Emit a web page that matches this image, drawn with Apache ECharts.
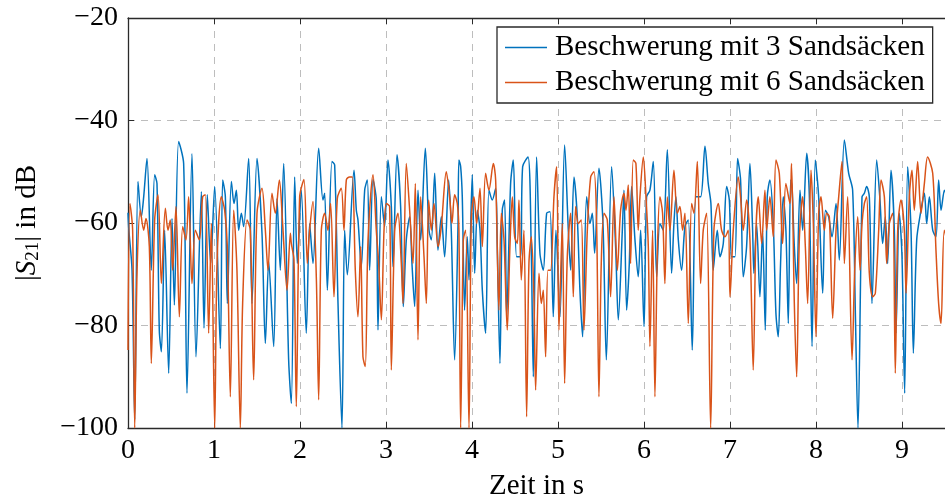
<!DOCTYPE html>
<html><head><meta charset="utf-8">
<script src="https://cdn.jsdelivr.net/npm/echarts@6/dist/echarts.min.js"></script>
<style>html,body{margin:0;padding:0;background:#fff}#c{width:945px;height:494px}</style>
</head><body><div id="c"></div>
<script>
const xTicks = [0,1,2,3,4,5,6,7,8,9];
const xMax = 9.5;
const yTicks = [-100,-80,-60,-40,-20];
const seriesNames = ['Beschwerung mit 3 Sandsäcken','Beschwerung mit 6 Sandsäcken'];

const sand3 = [
[0,-58],[0.01,-61.4],[0.047,-69.2],[0.078,-98.4],[0.116,-51.9],[0.155,-58.8],[0.182,-55],[0.221,-47.4],[0.271,-69.2],[0.31,-50.6],[0.337,-52.3],[0.364,-80.9],[0.388,-85.1],[0.426,-61.4],[0.473,-89.3],[0.512,-59.1],[0.539,-76],[0.589,-44.1],[0.647,-48.4],[0.686,-93.2],[0.744,-46.5],[0.791,-86.1],[0.853,-53.9],[0.884,-80.5],[0.922,-54.5],[0.961,-67.9],[1.008,-52.9],[1.074,-84.5],[1.101,-51.6],[1.132,-54.9],[1.155,-75.7],[1.202,-51.9],[1.233,-56.2],[1.26,-53.6],[1.287,-61.4],[1.318,-58.1],[1.345,-60.7],[1.403,-47.4],[1.442,-75.7],[1.5,-47.4],[1.558,-62],[1.597,-83.5],[1.636,-67.5],[1.694,-84.1],[1.733,-55.2],[1.771,-69.2],[1.81,-48.4],[1.868,-86.7],[1.899,-95.2],
[1.938,-51],[1.969,-67.9],[2.015,-53.6],[2.073,-81.5],[2.112,-60.1],[2.151,-67.9],[2.217,-45.4],[2.267,-55.5],[2.287,-54.2],[2.318,-73.1],[2.372,-48],[2.403,-48.7],[2.442,-75.7],[2.488,-100],[2.519,-61.4],[2.55,-70.1],[2.628,-49.7],[2.655,-57.5],[2.674,-59.4],[2.713,-68.5],[2.752,-53.6],[2.783,-51.6],[2.81,-69.2],[2.849,-51.5],[2.887,-55.5],[2.907,-80.9],[2.946,-54.9],[2.984,-60.7],[3.023,-47.7],[3.062,-56.8],[3.081,-68.5],[3.128,-46.7],[3.17,-56.8],[3.201,-76.3],[3.236,-63.3],[3.275,-58.8],[3.302,-67.9],[3.333,-76.3],[3.372,-53.6],[3.403,-63.3],[3.457,-45.4],[3.5,-61.4],[3.527,-63.3],[3.566,-50.3],[3.604,-65.3],[3.643,-58.8],[3.682,-66.6],[3.728,-51.6],[3.759,-61.4],[3.798,-86.7],[3.837,-60.7],
[3.848,-47.7],[3.868,-49],[3.887,-54.9],[3.914,-77],[3.945,-62.7],[3.965,-71.1],[4.003,-50.6],[4.031,-69.8],[4.062,-57.5],[4.093,-61.4],[4.12,-73.1],[4.158,-81.5],[4.197,-53.6],[4.236,-55.5],[4.275,-53.2],[4.294,-64.6],[4.325,-87.4],[4.352,-57.5],[4.379,-55.5],[4.403,-78.3],[4.449,-52.3],[4.48,-47.7],[4.519,-66.6],[4.565,-66.6],[4.589,-49],[4.651,-47.1],[4.689,-65.3],[4.713,-90],[4.751,-47.1],[4.79,-65.9],[4.829,-69.2],[4.868,-58.1],[4.907,-57.8],[4.945,-78.3],[4.976,-61.4],[5.023,-78.3],[5.077,-44.8],[5.12,-61.4],[5.147,-69.2],[5.186,-51],[5.224,-58.8],[5.255,-73.1],[5.286,-82.2],[5.333,-54.9],[5.372,-60.1],[5.399,-58.1],[5.426,-65.9],[5.476,-49.3],[5.523,-60.1],[5.562,-86.7],[5.624,-49],[5.67,-64.6],[5.701,-78.9],[5.748,-61.4],
[5.767,-53.6],[5.798,-77],[5.829,-67.9],[5.856,-52.9],[5.895,-63.3],[5.933,-70.5],[5.961,-61.4],[6.0,-80.2],[6.03,-54.9],[6.069,-53.6],[6.108,-48],[6.147,-70.5],[6.185,-60.1],[6.224,-61.4],[6.271,-45.7],[6.321,-69.8],[6.348,-60.1],[6.371,-54.9],[6.399,-63.3],[6.437,-69.2],[6.476,-60.7],[6.515,-59.4],[6.561,-84.8],[6.604,-54.9],[6.658,-54.9],[6.709,-45],[6.747,-52.3],[6.778,-56.2],[6.805,-69.2],[6.852,-61.4],[6.883,-66.6],[6.922,-64],[6.961,-52.9],[6.992,-55.5],[7.019,-66.6],[7.058,-66.6],[7.088,-47.4],[7.123,-51.6],[7.154,-70.5],[7.193,-64.6],[7.232,-48.4],[7.263,-61.4],[7.278,-69.8],[7.309,-60.1],[7.348,-74.4],[7.379,-61.4],[7.41,-80.9],[7.433,-54.9],[7.464,-51.6],[7.503,-60.1],[7.534,-77.6],[7.561,-82.2],[7.588,-67.9],[7.619,-54.9],[7.65,-61.4],[7.678,-79.6],[7.705,-51.6],
[7.721,-52.9],[7.748,-64.6],[7.775,-71.8],[7.814,-53.6],[7.845,-61.4],[7.892,-46.4],[7.923,-54.9],[7.954,-84.1],[7.992,-47.7],[8.031,-54.9],[8.078,-73.7],[8.109,-57.5],[8.147,-58.8],[8.186,-62.7],[8.233,-56.2],[8.271,-67.2],[8.33,-43.8],[8.38,-50.3],[8.426,-53.6],[8.457,-77],[8.488,-100],[8.535,-54.9],[8.562,-54.2],[8.589,-52.9],[8.62,-54.9],[8.651,-75.7],[8.706,-47.7],[8.744,-55.5],[8.775,-64],[8.806,-58.8],[8.833,-67.9],[8.872,-49.7],[8.911,-61.4],[8.93,-81.5],[8.969,-58.1],[9.0,-66.6],[9.031,-93.2],[9.066,-49],[9.105,-61.4],[9.132,-85.4],[9.171,-63.3],[9.221,-57.5],[9.26,-54.2],[9.287,-60.1],[9.318,-54.9],[9.357,-61.4],[9.395,-62.7],[9.426,-51.6],[9.454,-57.5],[9.492,-53.6],[9.55,-60]
];

const sand6 = [
[0,-84.8],[0.023,-56.2],[0.054,-61.4],[0.078,-100],[0.105,-69.8],[0.143,-57.5],[0.182,-61.4],[0.209,-59.1],[0.248,-64.6],[0.271,-87.4],[0.31,-59.4],[0.349,-54.5],[0.388,-71.8],[0.434,-57.1],[0.465,-61.4],[0.492,-59.4],[0.519,-69.2],[0.558,-56.8],[0.597,-78.3],[0.636,-60.7],[0.674,-63.3],[0.705,-54.9],[0.744,-71.8],[0.783,-61.4],[0.829,-63.3],[0.868,-54.9],[0.899,-54.5],[0.938,-81.5],[0.969,-60.1],[1.008,-100],[1.035,-67.9],[1.085,-54.9],[1.124,-57.5],[1.155,-64.6],[1.19,-93.9],[1.229,-57.5],[1.267,-69.2],[1.306,-100],[1.333,-75.7],[1.384,-59.4],[1.422,-61.4],[1.461,-90.6],[1.5,-58.1],[1.558,-53.2],[1.597,-61.4],[1.628,-69.2],[1.674,-54.2],[1.713,-58.1],[1.76,-51.6],[1.798,-60.1],[1.849,-73.1],[1.888,-62],
[1.899,-64],[1.93,-67.2],[1.957,-95.8],[1.996,-54.9],[2.046,-51.5],[2.085,-67.9],[2.112,-61.4],[2.151,-55.8],[2.19,-70.8],[2.217,-94.5],[2.248,-61.4],[2.287,-58.1],[2.325,-61.4],[2.356,-56.2],[2.395,-74.4],[2.434,-55.2],[2.48,-53.2],[2.511,-61.4],[2.539,-51.6],[2.577,-51],[2.608,-51],[2.643,-69.2],[2.674,-78.3],[2.705,-64.6],[2.732,-86.1],[2.759,-88],[2.791,-63.3],[2.849,-50.6],[2.887,-61.4],[2.915,-67.9],[2.946,-78.9],[2.977,-61.4],[3.004,-56.2],[3.042,-56.8],[3.062,-88.7],[3.101,-61.4],[3.139,-58.1],[3.178,-67.9],[3.198,-75.7],[3.236,-48.4],[3.275,-57.5],[3.314,-67.9],[3.341,-52.3],[3.372,-82.8],[3.403,-54.9],[3.442,-66.6],[3.469,-75.7],[3.496,-55.5],[3.527,-61.4],[3.558,-56.2],[3.605,-64.6],[3.643,-60.7],[3.701,-50],[3.74,-54.9],[3.767,-60.1],[3.798,-54.5],[3.829,-56.2],
[3.848,-61.4],[3.868,-100],[3.899,-63.3],[3.926,-61.4],[3.965,-100],[3.992,-58.8],[4.023,-54.9],[4.054,-60.1],[4.093,-53.2],[4.12,-64.6],[4.158,-50.3],[4.197,-53.6],[4.248,-48.4],[4.275,-51.6],[4.313,-77],[4.341,-58.1],[4.372,-63.3],[4.41,-80.9],[4.441,-64.6],[4.469,-54.9],[4.496,-62.7],[4.527,-64],[4.546,-55.5],[4.573,-71.1],[4.604,-61.4],[4.635,-97.8],[4.662,-67.9],[4.69,-62.7],[4.72,-74.4],[4.74,-92.6],[4.779,-69.8],[4.806,-75.7],[4.829,-73.1],[4.856,-86.1],[4.883,-69.2],[4.914,-69.2],[4.953,-54.9],[4.984,-49],[5.011,-80.9],[5.05,-60.1],[5.077,-91.3],[5.108,-66.6],[5.147,-58.1],[5.178,-74.4],[5.205,-56.8],[5.236,-60.1],[5.271,-59.4],[5.302,-80.9],[5.341,-61.4],[5.38,-51],[5.418,-50],[5.449,-60.1],[5.476,-93.9],[5.503,-67.9],[5.535,-58.1],[5.573,-59.4],[5.612,-74.4],[5.651,-54.9],[5.69,-69.2],[5.728,-57.5],[5.767,-54.2],
[5.79,-57.5],[5.817,-52.6],[5.844,-67.9],[5.875,-47.7],[5.906,-48.4],[5.933,-61.4],[5.953,-54.9],[5.992,-47.1],[6.023,-54.9],[6.05,-64.6],[6.069,-84.1],[6.1,-61.4],[6.127,-93.9],[6.154,-66.6],[6.185,-54.9],[6.216,-58.1],[6.243,-71.8],[6.271,-54.9],[6.302,-61.4],[6.348,-49.7],[6.387,-58.1],[6.418,-56.8],[6.449,-61.4],[6.476,-58.1],[6.515,-79.6],[6.554,-56.2],[6.581,-58.1],[6.62,-48],[6.658,-71.8],[6.689,-61.4],[6.728,-58.1],[6.775,-100],[6.813,-61.4],[6.864,-56.2],[6.902,-61.4],[6.941,-62.7],[6.98,-61.4],[7.0,-74.4],[7.038,-61.4],[7.096,-51],[7.123,-54.9],[7.154,-61.4],[7.193,-55.5],[7.232,-63.3],[7.27,-88.7],[7.302,-61.4],[7.329,-54.9],[7.368,-64],[7.406,-53.6],[7.426,-61.4],[7.464,-54.9],[7.503,-62.7],[7.534,-47.7],[7.573,-50.3],[7.612,-64],[7.65,-52.3],[7.697,-56.2],
[7.715,-48.4],[7.748,-75.7],[7.775,-90],[7.806,-63.3],[7.845,-54.9],[7.876,-64.6],[7.903,-75.7],[7.942,-49.7],[7.969,-60.1],[8.0,-82.2],[8.031,-58.1],[8.058,-54.9],[8.097,-61.4],[8.124,-58.1],[8.155,-58.8],[8.194,-78.6],[8.233,-61.4],[8.264,-54.9],[8.302,-48],[8.33,-67.9],[8.368,-54.9],[8.419,-86.7],[8.45,-69.2],[8.485,-58.8],[8.512,-69.2],[8.535,-60.1],[8.562,-56.2],[8.589,-54.9],[8.62,-69.8],[8.659,-74.4],[8.69,-73.7],[8.729,-61.4],[8.756,-51.6],[8.795,-54.9],[8.822,-67.9],[8.853,-60.1],[8.892,-58.1],[8.922,-89.3],[8.95,-61.4],[8.988,-55.5],[9.027,-61.4],[9.047,-73.7],[9.085,-54.9],[9.116,-49.7],[9.143,-57.5],[9.182,-48],[9.221,-58.1],[9.26,-52.3],[9.298,-47.1],[9.357,-50.3],[9.395,-65.3],[9.426,-75.7],[9.454,-79.6],[9.492,-61.4],[9.55,-66]
];

const FONT = 'Liberation Serif';
const AX = '#2a2a2a';
const chart = echarts.init(document.getElementById('c'), null, {renderer:'canvas'});
const gridLine = {show:true, lineStyle:{color:'#bdbdbd', type:[7,6], width:1}};
chart.setOption({
  animation:false,
  backgroundColor:'#fff',
  grid:{left:128, top:18, right:0, height:410, show:false, containLabel:false, outerBoundsMode:'none'},
  legend:{
    orient:'vertical', left:497, top:27, padding:[6,8,6,8],
    backgroundColor:'#fff', borderColor:AX, borderWidth:1.3,
    icon:'rect', itemWidth:42, itemHeight:1.5, itemGap:6,
    textStyle:{fontFamily:FONT, fontSize:29, color:'#000', padding:[0,0,0,3], lineHeight:29},
    data:seriesNames
  },
  xAxis:[{
    type:'value', min:xTicks[0], max:xMax, interval:1,
    name:'Zeit in s', nameLocation:'middle', nameGap:44,
    nameTextStyle:{fontFamily:FONT, fontSize:29, color:'#000'},
    axisLine:{show:true, onZero:false, lineStyle:{color:AX, width:1.3}},
    axisTick:{show:true, inside:true, length:6, lineStyle:{color:AX}},
    axisLabel:{fontFamily:FONT, fontSize:28, color:'#000', margin:9, showMaxLabel:false},
    splitLine:gridLine
  },{
    type:'value', position:'top', min:xTicks[0], max:xMax, interval:1,
    axisLine:{show:true, onZero:false, lineStyle:{color:AX, width:1.3}},
    axisTick:{show:true, inside:true, length:6, lineStyle:{color:AX}},
    axisLabel:{show:false}, splitLine:{show:false}
  }],
  yAxis:{
    type:'value', min:yTicks[0], max:yTicks[yTicks.length-1], interval:20,
    name:'|{i|S}{s|21}| in dB', nameLocation:'middle', nameGap:85, nameRotate:90,
    nameTextStyle:{fontFamily:FONT, fontSize:29, color:'#000',
      rich:{i:{fontFamily:FONT, fontStyle:'italic', fontSize:29}, s:{fontFamily:FONT, fontSize:19, padding:[12,0,0,0]}}},
    axisLine:{show:true, onZero:false, lineStyle:{color:AX, width:1.3}},
    axisTick:{show:true, inside:true, length:6, lineStyle:{color:AX}},
    axisLabel:{fontFamily:FONT, fontSize:28, color:'#000', margin:10, formatter:v=>String(v).replace('-','\u2212')},
    splitLine:gridLine
  },
  series:[
    {name:seriesNames[0], type:'line', data:sand3, symbol:'none', smooth:0.3, clip:true,
     lineStyle:{color:'#0072BD', width:1.5}, itemStyle:{color:'#0072BD'}},
    {name:seriesNames[1], type:'line', data:sand6, symbol:'none', smooth:0.3, clip:true,
     lineStyle:{color:'#D95319', width:1.5}, itemStyle:{color:'#D95319'}}
  ]
});
</script></body></html>
